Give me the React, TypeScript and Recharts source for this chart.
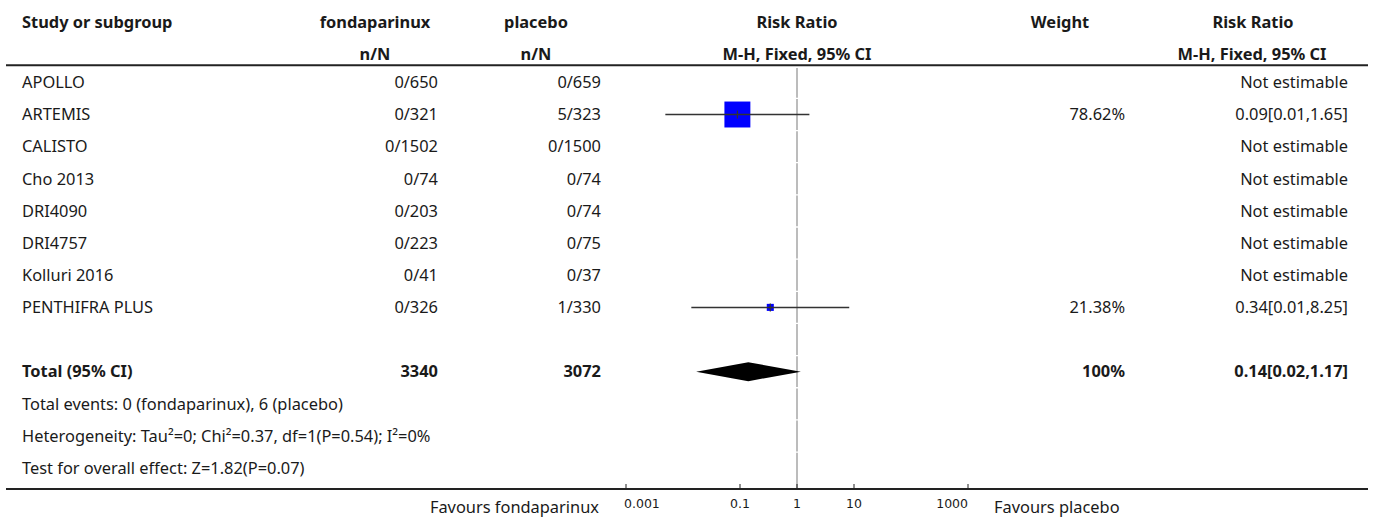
import { ScatterChart, Scatter, XAxis, YAxis, ReferenceLine } from "recharts";

const studies = [
  "APOLLO",
  "ARTEMIS",
  "CALISTO",
  "Cho 2013",
  "DRI4090",
  "DRI4757",
  "Kolluri 2016",
  "PENTHIFRA PLUS",
];
const treatN = ["0/650", "0/321", "0/1502", "0/74", "0/203", "0/223", "0/41", "0/326"];
const placeboN = ["0/659", "5/323", "0/1500", "0/74", "0/74", "0/75", "0/37", "1/330"];
const weights: (number | null)[] = [null, 78.62, null, null, null, null, null, 21.38];
const rrEst: (number | null)[] = [null, 0.09, null, null, null, null, null, 0.34];
const rrLow: (number | null)[] = [null, 0.0049, null, null, null, null, null, 0.014];
const rrHigh: (number | null)[] = [null, 1.65, null, null, null, null, null, 8.25];
const rrLabels = [
  "Not estimable",
  "0.09[0.01,1.65]",
  "Not estimable",
  "Not estimable",
  "Not estimable",
  "Not estimable",
  "Not estimable",
  "0.34[0.01,8.25]",
];

const totalTreat = "3340";
const totalPlacebo = "3072";
const totalWeight = "100%";
const totalEst = 0.14;
const totalLow = 0.017;
const totalHigh = 1.17;
const totalLabel = "0.14[0.02,1.17]";

const footnotes = [
  "Total events: 0 (fondaparinux), 6 (placebo)",
  "Heterogeneity: Tau²=0; Chi²=0.37, df=1(P=0.54); I²=0%",
  "Test for overall effect: Z=1.82(P=0.07)",
];

const xTicks = [0.001, 0.1, 1, 10, 1000];
const favoursLeft = "Favours fondaparinux";
const favoursRight = "Favours placebo";

// row positions on the y axis
const HEAD1 = -1.88;
const HEAD2 = -0.87;
const HEAD_LINE = -0.535;
const TOTAL_ROW = studies.length + 1;
const BOTTOM = 12.65;

const FONT = "'Noto Sans', Lato, sans-serif";
const FS = 16.4;
const INK = "#1a1a1a";

type Cell = { text: string; x: number; anchor: "start" | "middle" | "end"; bold?: boolean };

const rowCells = new Map<number, Cell[]>();
rowCells.set(HEAD1, [
  { text: "Study or subgroup", x: 22, anchor: "start", bold: true },
  { text: "fondaparinux", x: 375, anchor: "middle", bold: true },
  { text: "placebo", x: 536, anchor: "middle", bold: true },
  { text: "Risk Ratio", x: 797, anchor: "middle", bold: true },
  { text: "Weight", x: 1060, anchor: "middle", bold: true },
  { text: "Risk Ratio", x: 1253, anchor: "middle", bold: true },
]);
rowCells.set(HEAD2, [
  { text: "n/N", x: 375, anchor: "middle", bold: true },
  { text: "n/N", x: 536, anchor: "middle", bold: true },
  { text: "M-H, Fixed, 95% CI", x: 797, anchor: "middle", bold: true },
  { text: "M-H, Fixed, 95% CI", x: 1252, anchor: "middle", bold: true },
]);
studies.forEach((s, i) => {
  const cells: Cell[] = [
    { text: s, x: 22, anchor: "start" },
    { text: treatN[i], x: 438, anchor: "end" },
    { text: placeboN[i], x: 601, anchor: "end" },
    { text: rrLabels[i], x: 1348, anchor: "end" },
  ];
  if (weights[i] != null) cells.push({ text: `${weights[i]!.toFixed(2)}%`, x: 1125, anchor: "end" });
  rowCells.set(i, cells);
});
rowCells.set(TOTAL_ROW, [
  { text: "Total (95% CI)", x: 22, anchor: "start", bold: true },
  { text: totalTreat, x: 438, anchor: "end", bold: true },
  { text: totalPlacebo, x: 601, anchor: "end", bold: true },
  { text: totalWeight, x: 1125, anchor: "end", bold: true },
  { text: totalLabel, x: 1348, anchor: "end", bold: true },
]);
footnotes.forEach((f, k) => {
  rowCells.set(TOTAL_ROW + 1 + k, [{ text: f, x: 22, anchor: "start" }]);
});

const yTicks = [HEAD1, HEAD2, HEAD_LINE, ...Array.from(rowCells.keys()).filter((k) => k >= 0), BOTTOM];

const RowTick = (props: any) => {
  const { y, payload } = props;
  const v = payload.value;
  if (v === HEAD_LINE || v === BOTTOM) {
    return <line x1={6} x2={1368} y1={y} y2={y} stroke="#222" strokeWidth={2} />;
  }
  const cells = rowCells.get(v) || [];
  return (
    <g>
      {cells.map((c, k) => (
        <text
          key={k}
          x={c.x}
          y={y + 5.8}
          textAnchor={c.anchor}
          fontFamily={FONT}
          fontSize={FS}
          fontWeight={c.bold ? 700 : 400}
          fill={INK}
        >
          {c.text}
        </text>
      ))}
    </g>
  );
};

const AxisTick = (props: any) => {
  const { x, y, payload, index } = props;
  const anchor = index === 0 ? "start" : index === xTicks.length - 1 ? "end" : "middle";
  return (
    <g>
      <line x1={x} x2={x} y1={y - 5} y2={y} stroke="#222" strokeWidth={1} />
      <text
        x={index === 0 ? x - 2 : x}
        y={y + 19}
        textAnchor={anchor}
        fontFamily="'DejaVu Sans', sans-serif"
        fontSize={12.5}
        fill={INK}
      >
        {payload.value}
      </text>
      {index === 0 && (
        <text x={x - 27} y={y + 24} textAnchor="end" fontFamily={FONT} fontSize={FS} fill={INK}>
          {favoursLeft}
        </text>
      )}
      {index === xTicks.length - 1 && (
        <text x={x + 26} y={y + 24} textAnchor="start" fontFamily={FONT} fontSize={FS} fill={INK}>
          {favoursRight}
        </text>
      )}
    </g>
  );
};

const studyLine = (weight: number) => (props: any) => {
  const pts = props.points || [];
  if (pts.length < 3) return <g />;
  const [lo, mid, hi] = pts;
  const side = weight * 0.33;
  return (
    <g>
      <rect x={mid.x - side / 2} y={mid.y - side / 2} width={side} height={side} fill="#0000ff" />
      <line x1={lo.x} x2={hi.x} y1={lo.y} y2={hi.y} stroke="#333" strokeWidth={1.5} />
      <line x1={mid.x} x2={mid.x} y1={mid.y - 4} y2={mid.y + 4} stroke="#333" strokeWidth={1.2} />
    </g>
  );
};

const diamondLine = (props: any) => {
  const pts = props.points || [];
  if (pts.length < 3) return <g />;
  const [lo, mid, hi] = pts;
  const h = 9.5;
  return (
    <polygon
      points={`${lo.x},${lo.y} ${mid.x},${mid.y - h} ${hi.x},${hi.y} ${mid.x},${mid.y + h}`}
      fill="#000"
    />
  );
};

const vSegments = Array.from({ length: 13 }, (_, i) => i);

export default function App() {
  return (
    <div style={{ position: "absolute", left: 0, top: 0, width: 1375, height: 520, background: "#fff" }}>
      <ScatterChart width={1375} height={520} margin={{ top: 2, right: 407, bottom: 0, left: 625 }}>
        <XAxis
          type="number"
          dataKey="x"
          scale="log"
          domain={[0.001, 1000]}
          ticks={xTicks}
          allowDataOverflow
          interval={0}
          height={31}
          tickSize={0}
          tickMargin={0}
          tickLine={false}
          axisLine={{ stroke: "#222", strokeWidth: 2 }}
          tick={<AxisTick />}
        />
        <YAxis
          type="number"
          dataKey="y"
          reversed
          domain={[-2.5, BOTTOM]}
          ticks={yTicks}
          interval={0}
          width={1}
          axisLine={false}
          tickLine={false}
          tick={<RowTick />}
        />
        {vSegments.map((i) => (
          <ReferenceLine
            key={i}
            segment={[
              { x: 1, y: i === 0 ? -0.45 : i - 0.48 },
              { x: 1, y: i === 12 ? BOTTOM : i + 0.48 },
            ]}
            stroke="#a6a6a6"
            strokeWidth={1.5}
          />
        ))}
        {studies.map((s, i) =>
          rrEst[i] == null ? null : (
            <Scatter
              key={s}
              data={[
                { x: rrLow[i], y: i },
                { x: rrEst[i], y: i },
                { x: rrHigh[i], y: i },
              ]}
              line={studyLine(weights[i] as number)}
              shape={() => <g />}
              isAnimationActive={false}
            />
          )
        )}
        <Scatter
          data={[
            { x: totalLow, y: TOTAL_ROW },
            { x: totalEst, y: TOTAL_ROW },
            { x: totalHigh, y: TOTAL_ROW },
          ]}
          line={diamondLine}
          shape={() => <g />}
          isAnimationActive={false}
        />
      </ScatterChart>
    </div>
  );
}
